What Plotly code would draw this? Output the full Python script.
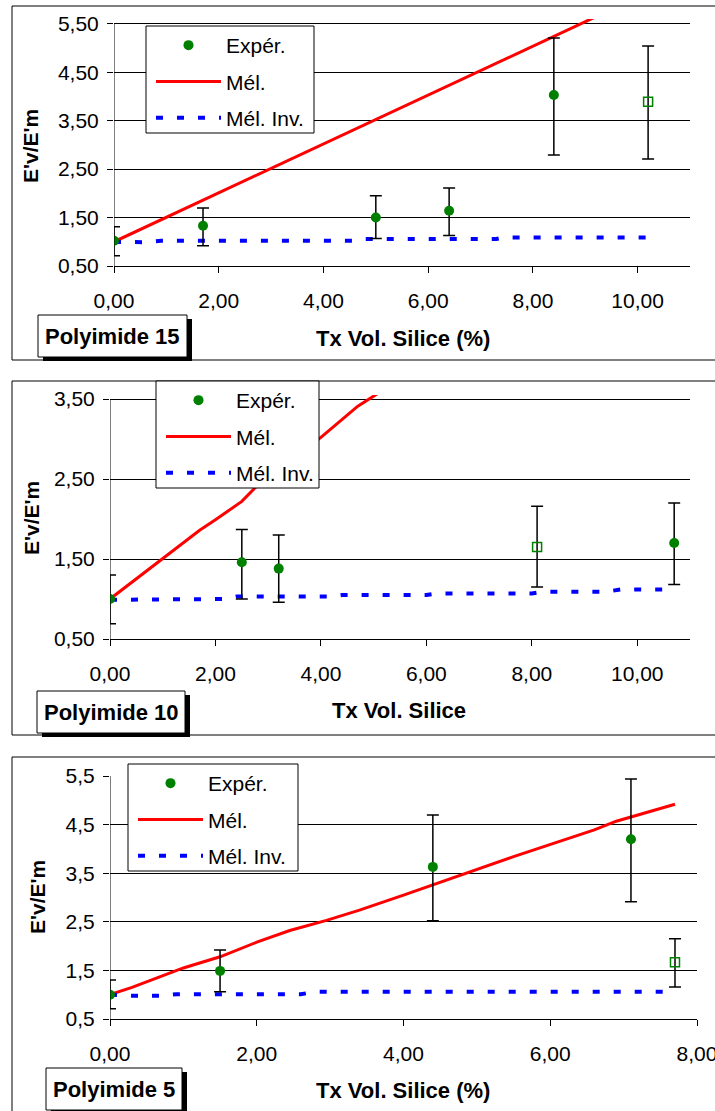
import plotly.graph_objects as go

W, H = 715, 1111


def fx(p):
    return p / W


def fy(p):
    return 1 - p / H


# ---------------- Data ----------------
# Polyimide 15
p15_exp_x = [0.0, 1.7, 5.0, 6.4, 8.4]
p15_exp_y = [1.02, 1.33, 1.50, 1.64, 4.03]
p15_exp_hi = [1.31, 1.70, 1.95, 2.11, 5.21]
p15_exp_lo = [0.71, 0.92, 1.07, 1.13, 2.79]
p15_out_x = [10.2]
p15_out_y = [3.89]
p15_out_hi = [5.04]
p15_out_lo = [2.71]
p15_mel_x = [0.0, 1.7, 5.0, 6.4, 8.4, 10.2]
p15_mel_y = [1.0, 1.86, 3.53, 4.23, 5.24, 6.15]
p15_inv_x = [0.0, 0.6, 0.9, 4.6, 4.8, 7.3, 7.45, 10.2]
p15_inv_y = [1.0, 0.99, 1.02, 1.02, 1.06, 1.06, 1.09, 1.09]

# Polyimide 10
p10_exp_x = [0.0, 2.5, 3.2, 10.7]
p10_exp_y = [1.0, 1.46, 1.38, 1.70]
p10_exp_hi = [1.30, 1.87, 1.80, 2.20]
p10_exp_lo = [0.69, 1.00, 0.96, 1.18]
p10_out_x = [8.1]
p10_out_y = [1.65]
p10_out_hi = [2.16]
p10_out_lo = [1.15]
p10_mel_x = [0.0, 1.0, 1.7, 2.0, 2.5, 2.75, 4.0, 4.7, 5.2]
p10_mel_y = [1.0, 1.5, 1.86, 1.99, 2.22, 2.39, 3.02, 3.41, 3.62]
p10_inv_x = [0.0, 0.6, 1.0, 2.2, 2.4, 4.2, 4.4, 6.0, 6.2, 8.0, 8.2, 9.4, 9.7, 10.7]
p10_inv_y = [0.99, 0.99, 1.0, 1.0, 1.03, 1.03, 1.05, 1.05, 1.07, 1.07, 1.09, 1.09, 1.12, 1.12]

# Polyimide 5
p5_exp_x = [0.0, 1.5, 4.4, 7.1]
p5_exp_y = [1.0, 1.49, 3.63, 4.20]
p5_exp_hi = [1.30, 1.92, 4.70, 5.44]
p5_exp_lo = [0.71, 1.06, 2.52, 2.91]
p5_out_x = [7.7]
p5_out_y = [1.67]
p5_out_hi = [2.15]
p5_out_lo = [1.16]
p5_mel_x = [0.0, 0.3, 1.0, 1.5, 2.0, 2.45, 2.95, 3.4, 4.0, 4.7, 5.5, 6.6, 6.9, 7.7]
p5_mel_y = [1.0, 1.15, 1.55, 1.78, 2.08, 2.32, 2.53, 2.74, 3.05, 3.42, 3.84, 4.39, 4.57, 4.92]
p5_inv_x = [0.0, 0.3, 0.7, 0.9, 2.6, 2.8, 7.7]
p5_inv_y = [1.0, 0.98, 0.98, 1.01, 1.01, 1.06, 1.06]

FONT = "Liberation Sans"
GREEN = "#008000"

fig = go.Figure()


def add_panel(i, ex_x, ex_y, ex_hi, ex_lo, o_x, o_y, o_hi, o_lo, m_x, m_y, v_x, v_y):
    xa = "x" if i == 1 else f"x{i}"
    ya = "y" if i == 1 else f"y{i}"
    leg = "legend" if i == 1 else f"legend{i}"
    fig.add_trace(go.Scatter(
        x=m_x, y=m_y, mode="lines", name="Mél.", xaxis=xa, yaxis=ya,
        line=dict(color="#FF0000", width=3), legend=leg, legendgroup=f"m{i}",
        legendrank=2))
    fig.add_trace(go.Scatter(
        x=v_x, y=v_y, mode="lines", name="Mél. Inv.", xaxis=xa, yaxis=ya,
        line=dict(color="#0000FF", width=4, dash="7px,14px"), legend=leg,
        legendgroup=f"v{i}", legendrank=3))
    fig.add_trace(go.Scatter(
        x=o_x, y=o_y, mode="markers", showlegend=False, xaxis=xa, yaxis=ya,
        marker=dict(symbol="square-open", size=9, color=GREEN, line=dict(width=1.5, color=GREEN)),
        error_y=dict(type="data", symmetric=False,
                     array=[h - y for h, y in zip(o_hi, o_y)],
                     arrayminus=[y - l for l, y in zip(o_lo, o_y)],
                     color="black", thickness=1.5, width=6)))
    fig.add_trace(go.Scatter(
        x=ex_x, y=ex_y, mode="markers", name="Expér.", xaxis=xa, yaxis=ya,
        marker=dict(symbol="circle", size=10, color=GREEN), legend=leg,
        legendgroup=f"e{i}", legendrank=1,
        error_y=dict(type="data", symmetric=False,
                     array=[h - y for h, y in zip(ex_hi, ex_y)],
                     arrayminus=[y - l for l, y in zip(ex_lo, ex_y)],
                     color="black", thickness=1.5, width=6)))


add_panel(1, p15_exp_x, p15_exp_y, p15_exp_hi, p15_exp_lo, p15_out_x, p15_out_y,
          p15_out_hi, p15_out_lo, p15_mel_x, p15_mel_y, p15_inv_x, p15_inv_y)
add_panel(2, p10_exp_x, p10_exp_y, p10_exp_hi, p10_exp_lo, p10_out_x, p10_out_y,
          p10_out_hi, p10_out_lo, p10_mel_x, p10_mel_y, p10_inv_x, p10_inv_y)
add_panel(3, p5_exp_x, p5_exp_y, p5_exp_hi, p5_exp_lo, p5_out_x, p5_out_y,
          p5_out_hi, p5_out_lo, p5_mel_x, p5_mel_y, p5_inv_x, p5_inv_y)

tickfont = dict(family=FONT, size=21, color="black")


def xaxis(dom, rng, dtick, anchor):
    vals = [v for v in range(0, int(rng[1]) + 1, dtick)]
    return dict(domain=[fx(dom[0]), fx(dom[1])], range=rng, tickvals=vals,
                tickformat=".2f", ticks="outside", ticklen=6, tickcolor="black",
                showline=True, linecolor="black", linewidth=1, showgrid=False,
                zeroline=False, tickfont=tickfont, ticklabelstandoff=10,
                ticklabeloverflow="allow",
                automargin=False, anchor=anchor, fixedrange=True)


def yaxis(dom, rng, vals, fmt, anchor):
    return dict(domain=[fy(dom[1]), fy(dom[0])], range=rng, tickvals=vals,
                tickformat=fmt, ticks="outside", ticklen=6, tickcolor="black",
                showline=False, showgrid=True, gridcolor="black", gridwidth=1,
                zeroline=False, tickfont=tickfont, anchor=anchor, ticklabelstandoff=4,
                ticklabeloverflow="allow",
                automargin=False, fixedrange=True)


y15_vals = [0.5, 1.5, 2.5, 3.5, 4.5, 5.5]
y10_vals = [0.5, 1.5, 2.5, 3.5]

fig.update_layout(
    width=W, height=H, margin=dict(l=0, r=0, t=0, b=0, autoexpand=False),
    paper_bgcolor="white", plot_bgcolor="rgba(0,0,0,0)",
    separators=", ",
    font=dict(family=FONT, color="black"),
    xaxis=xaxis((114, 690), [0, 11], 2, "y"),
    yaxis=yaxis((19, 266), [0.5, 5.6], y15_vals, ".2f", "x"),
    xaxis2=xaxis((110, 690), [0, 11], 2, "y2"),
    yaxis2=yaxis((395, 639), [0.5, 3.55], y10_vals, ".2f", "x2"),
    xaxis3=xaxis((110, 697), [0, 8], 2, "y3"),
    yaxis3=yaxis((776, 1019), [0.5, 5.5], y15_vals, ".1f", "x3"),
)

shapes = []
# outer frames
for (t, b) in [(6, 360), (381, 735), (757, 1125)]:
    shapes.append(dict(type="rect", xref="paper", yref="paper", x0=fx(12), x1=fx(730),
                       y0=fy(b), y1=fy(t), line=dict(color="black", width=1), layer="below"))
# y axis lines
for xr, yr, top in [("x", "y", 5.5), ("x2", "y2", 3.5), ("x3", "y3", 5.5)]:
    shapes.append(dict(type="line", xref=xr, yref=yr, x0=0, x1=0, y0=0.5, y1=top,
                       line=dict(color="black", width=1)))
# legend boxes
for (l, r, t, b) in [(146, 314, 26, 133), (156, 319, 381, 488), (128, 298, 764, 871)]:
    shapes.append(dict(type="rect", xref="paper", yref="paper", x0=fx(l), x1=fx(r),
                       y0=fy(b), y1=fy(t), fillcolor="white",
                       line=dict(color="black", width=1), layer="above"))
# label boxes with shadow
labels = [("Polyimide 15", 38, 187, 315, 357), ("Polyimide 10", 37, 185, 691, 733),
          ("Polyimide 5", 46, 182, 1068, 1110)]
annotations = []
for txt, l, r, t, b in labels:
    shapes.append(dict(type="rect", xref="paper", yref="paper", x0=fx(l + 5), x1=fx(r + 5),
                       y0=fy(b + 4), y1=fy(t + 4), fillcolor="black",
                       line=dict(color="black", width=0), layer="above"))
    shapes.append(dict(type="rect", xref="paper", yref="paper", x0=fx(l), x1=fx(r),
                       y0=fy(b), y1=fy(t), fillcolor="white",
                       line=dict(color="black", width=1), layer="above"))
    annotations.append(dict(text=f"<b>{txt}</b>", xref="paper", yref="paper",
                            x=fx((l + r) / 2), y=fy((t + b) / 2), showarrow=False,
                            xanchor="center", yanchor="middle",
                            font=dict(family=FONT, size=22, color="black")))

# axis titles
for txt, cx, cy in [("Tx Vol. Silice (%)", 403, 338), ("Tx Vol. Silice", 399, 710),
                    ("Tx Vol. Silice (%)", 403, 1090)]:
    annotations.append(dict(text=f"<b>{txt}</b>", xref="paper", yref="paper",
                            x=fx(cx), y=fy(cy), showarrow=False, xanchor="center",
                            yanchor="middle", font=dict(family=FONT, size=22, color="black")))
for cx, cy in [(31, 146), (31, 518), (37, 897)]:
    annotations.append(dict(text="<b>E'v/E'm</b>", xref="paper", yref="paper",
                            x=fx(cx), y=fy(cy), showarrow=False, textangle=-90,
                            xanchor="center", yanchor="middle",
                            font=dict(family=FONT, size=21, color="black")))

fig.update_layout(shapes=shapes, annotations=annotations)


def legend(l, t):
    return dict(x=fx(l), y=fy(t), xanchor="left", yanchor="top",
                bgcolor="rgba(0,0,0,0)", borderwidth=0,
                font=dict(family=FONT, size=21, color="black"),
                itemwidth=65, tracegroupgap=6, traceorder="grouped")


fig.update_layout(legend=legend(151, 25), legend2=legend(161, 380), legend3=legend(133, 763))

fig.write_html("out.html", config={"displayModeBar": False},
               post_script="document.body.style.margin='0';document.body.style.overflow='hidden';")
